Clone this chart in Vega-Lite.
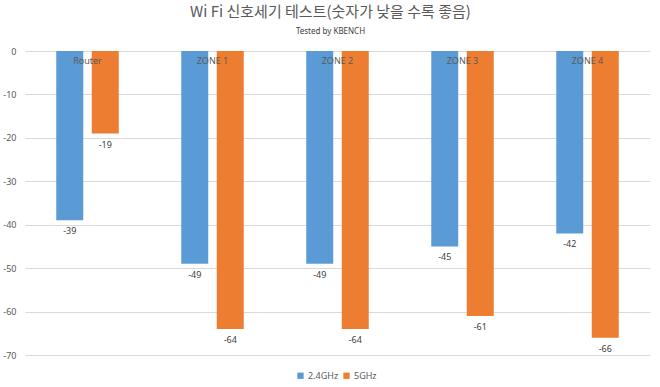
{
  "$schema": "https://vega.github.io/schema/vega-lite/v6.json",
  "width": 625,
  "height": 304,
  "autosize": {"type": "none"},
  "padding": {"left": 25, "top": 51, "right": 10, "bottom": 32},
  "background": "white",
  "title": {
    "text": "Wi Fi 신호세기 테스트(숫자가 낮을 수록 좋음)",
    "subtitle": "Tested by KBENCH",
    "anchor": "middle",
    "frame": "group",
    "dx": -7,
    "offset": 11,
    "font": "Noto Sans CJK KR",
    "fontSize": 15,
    "fontWeight": "normal",
    "color": "#595959",
    "subtitleFont": "Noto Sans",
    "subtitleFontSize": 8,
    "subtitleColor": "#404040",
    "subtitlePadding": 8
  },
  "data": {
    "values": [
      {"place": "Router", "band": "2.4GHz", "dbm": -39},
      {"place": "Router", "band": "5GHz", "dbm": -19},
      {"place": "ZONE 1", "band": "2.4GHz", "dbm": -49},
      {"place": "ZONE 1", "band": "5GHz", "dbm": -64},
      {"place": "ZONE 2", "band": "2.4GHz", "dbm": -49},
      {"place": "ZONE 2", "band": "5GHz", "dbm": -64},
      {"place": "ZONE 3", "band": "2.4GHz", "dbm": -45},
      {"place": "ZONE 3", "band": "5GHz", "dbm": -61},
      {"place": "ZONE 4", "band": "2.4GHz", "dbm": -42},
      {"place": "ZONE 4", "band": "5GHz", "dbm": -66}
    ]
  },
  "encoding": {
    "x": {
      "field": "place",
      "type": "nominal",
      "sort": null,
      "title": null,
      "scale": {"paddingInner": 0.5, "paddingOuter": 0.25},
      "axis": {
        "orient": "bottom",
        "offset": -304,
        "domain": false,
        "ticks": false,
        "labelAngle": 0,
        "labelPadding": 5,
        "labelFont": "Noto Sans",
        "labelFontSize": 9,
        "labelColor": "#595959",
        "zindex": 1
      }
    },
    "xOffset": {
      "field": "band",
      "type": "nominal",
      "scale": {"paddingInner": 0.24, "paddingOuter": 0}
    },
    "y": {
      "field": "dbm",
      "type": "quantitative",
      "title": null,
      "scale": {"domain": [-70, 0], "nice": false},
      "axis": {
        "values": [0, -10, -20, -30, -40, -50, -60, -70],
        "domain": false,
        "ticks": false,
        "labelPadding": 9,
        "labelFont": "Noto Sans",
        "labelFontSize": 9,
        "labelColor": "#595959",
        "gridColor": "#d9d9d9",
        "gridWidth": 1
      }
    }
  },
  "layer": [
    {
      "mark": {"type": "bar"},
      "encoding": {
        "color": {
          "field": "band",
          "type": "nominal",
          "scale": {"domain": ["2.4GHz", "5GHz"], "range": ["#5b9bd5", "#ed7d31"]},
          "legend": {
            "title": null,
            "orient": "none",
            "legendX": 271,
            "legendY": 320,
            "direction": "horizontal",
            "symbolType": "square",
            "symbolSize": 40,
            "symbolStrokeWidth": 0,
            "labelFont": "Noto Sans",
            "labelFontSize": 9,
            "labelColor": "#595959",
            "labelOffset": 3,
            "columnPadding": 3
          }
        }
      }
    },
    {
      "mark": {"type": "text", "baseline": "top", "dy": 7, "font": "Noto Sans", "fontSize": 9, "color": "#404040"},
      "encoding": {
        "text": {"field": "dbm", "type": "quantitative"}
      }
    }
  ],
  "config": {
    "view": {"stroke": null},
    "locale": {
      "number": {
        "decimal": ".",
        "thousands": ",",
        "grouping": [3],
        "currency": ["$", ""],
        "minus": "-"
      }
    }
  }
}
